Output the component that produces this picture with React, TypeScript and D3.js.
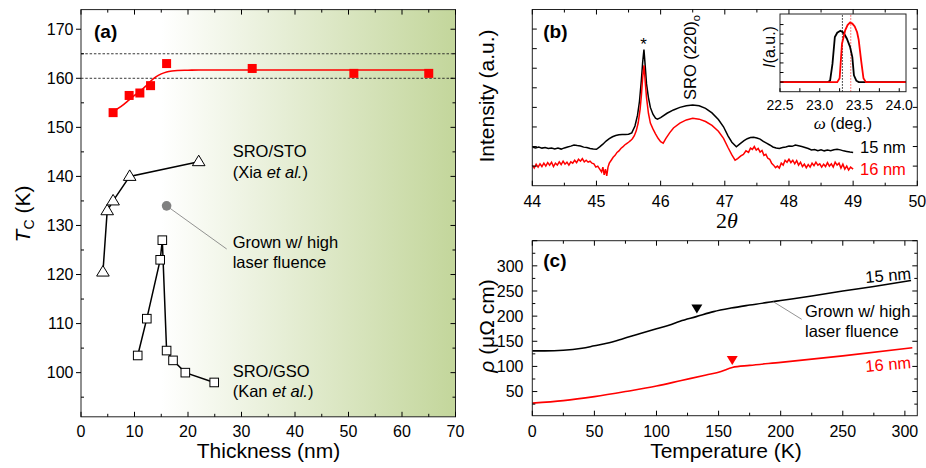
import React from "react";
import * as d3 from "d3";

const SANS = "'Liberation Sans', Arial, Helvetica, sans-serif";
const SERIF = "'Liberation Serif', 'Times New Roman', serif";

// ---------------- Panel (a) data ----------------
const thicknessTicks = [0, 10, 20, 30, 40, 50, 60, 70];
const thicknessMinor = [5, 15, 25, 35, 45, 55, 65];
const tcTicks = [100, 110, 120, 130, 140, 150, 160, 170];
const tcMinor = [95, 105, 115, 125, 135, 145, 155, 165];
const thisWorkThickness = [6, 9, 11, 13, 16, 32, 51, 65];
const thisWorkTc = [153, 156.5, 157, 158.5, 163, 162, 161, 161];
const fitThickness = [6, 7, 8, 9, 10, 11, 12, 13, 14, 15, 16, 17, 18, 20, 22, 25, 30, 40, 50, 65];
const fitTc = [153.2, 153.9, 154.7, 155.6, 156.5, 157.3, 158.3, 159.4, 160.3, 160.9, 161.3, 161.5, 161.6, 161.65, 161.7, 161.7, 161.7, 161.7, 161.7, 161.7];
const xiaThickness = [4.1, 4.9, 6, 9.1, 22];
const xiaTc = [120.5, 133, 135, 140, 143];
const kanThickness = [10.6, 12.3, 14.8, 15.2, 16, 17.2, 19.5, 24.9];
const kanTc = [103.5, 111, 123, 127, 104.5, 102.5, 100, 98];
const highFluenceThickness = [16];
const highFluenceTc = [134];
const refLinesTc = [160, 165];

// ---------------- Panel (b) data ----------------
const twoThetaTicks = [44, 45, 46, 47, 48, 49, 50];
const twoThetaMinor = [44.5, 45.5, 46.5, 47.5, 48.5, 49.5];
const intensityTicks = [1, 2, 3, 4, 5, 6, 7, 8];
const xrd15nm: [number, number][] = [
  [44.0, 1.98], [44.05, 1.93], [44.1, 1.97], [44.15, 1.92], [44.2, 1.95], [44.25, 1.9], [44.3, 1.93], [44.35, 1.88],
  [44.4, 1.92], [44.45, 1.87], [44.5, 1.93], [44.55, 1.98], [44.6, 2.02], [44.65, 2.08], [44.7, 2.05], [44.75, 2.03],
  [44.8, 1.97], [44.85, 1.95], [44.9, 1.9], [44.95, 1.87], [45.0, 1.86], [45.05, 1.98], [45.1, 2.12], [45.15, 2.28],
  [45.2, 2.4], [45.25, 2.5], [45.3, 2.56], [45.35, 2.6], [45.4, 2.62], [45.45, 2.61], [45.5, 2.63], [45.55, 2.7],
  [45.6, 3.05], [45.64, 3.6], [45.67, 4.3], [45.7, 5.4], [45.72, 6.3], [45.74, 6.95], [45.76, 6.1], [45.78, 5.2],
  [45.81, 4.5], [45.84, 4.0], [45.88, 3.65], [45.92, 3.45], [45.95, 3.4], [46.0, 3.48], [46.1, 3.7], [46.2, 3.87],
  [46.3, 4.0], [46.4, 4.08], [46.5, 4.12], [46.6, 4.08], [46.7, 3.95], [46.8, 3.72], [46.9, 3.38], [46.98, 3.01],
  [47.05, 2.55], [47.11, 2.22], [47.18, 1.99], [47.24, 2.15], [47.3, 2.3], [47.35, 2.4], [47.4, 2.46], [47.45, 2.48],
  [47.5, 2.44], [47.55, 2.38], [47.6, 2.26], [47.65, 2.17], [47.7, 2.08], [47.75, 1.98], [47.8, 1.93], [47.85, 1.9],
  [47.9, 1.95], [47.95, 1.98], [48.0, 2.03], [48.05, 2.01], [48.1, 2.08], [48.15, 2.04], [48.2, 2.0], [48.25, 1.95],
  [48.3, 1.9], [48.35, 1.83], [48.4, 1.85], [48.45, 1.79], [48.5, 1.83], [48.55, 1.78], [48.6, 1.82], [48.65, 1.79],
  [48.7, 1.84], [48.75, 1.86], [48.8, 1.83], [48.85, 1.78], [48.9, 1.75], [48.95, 1.72], [49.0, 1.7],
];
const xrd16nm: [number, number][] = [
  [44.0, 1.05], [44.03, 0.9], [44.06, 1.1], [44.09, 0.95], [44.12, 1.12], [44.15, 0.98], [44.18, 1.15], [44.21, 1.0],
  [44.24, 1.18], [44.27, 1.05], [44.3, 1.2], [44.33, 0.98], [44.36, 1.15], [44.39, 1.05], [44.42, 1.22], [44.45, 1.08],
  [44.48, 1.25], [44.51, 1.1], [44.54, 1.2], [44.57, 1.05], [44.6, 1.22], [44.63, 1.15], [44.66, 1.3], [44.69, 1.18],
  [44.72, 1.35], [44.75, 1.25], [44.78, 1.38], [44.81, 1.22], [44.84, 1.3], [44.87, 1.2], [44.9, 1.25], [44.93, 1.15],
  [44.96, 1.12], [44.99, 0.95], [45.02, 1.0], [45.05, 0.85], [45.08, 0.7], [45.1, 0.95], [45.12, 0.55], [45.14, 0.85],
  [45.16, 0.5], [45.18, 0.95], [45.2, 1.15], [45.23, 1.3], [45.26, 1.45], [45.29, 1.55], [45.32, 1.7], [45.35, 1.78],
  [45.38, 1.9], [45.41, 1.98], [45.44, 2.08], [45.47, 2.15], [45.5, 2.22], [45.53, 2.3], [45.56, 2.4], [45.59, 2.55],
  [45.62, 2.8], [45.65, 3.2], [45.68, 3.9], [45.7, 4.6], [45.72, 5.5], [45.74, 6.15], [45.76, 5.3], [45.78, 4.5],
  [45.81, 3.7], [45.84, 3.2], [45.88, 2.9], [45.92, 2.65], [45.96, 2.42], [46.0, 2.25], [46.04, 2.17], [46.08, 2.4],
  [46.14, 2.7], [46.2, 2.95], [46.3, 3.2], [46.4, 3.36], [46.5, 3.44], [46.6, 3.4], [46.7, 3.28], [46.8, 3.08],
  [46.9, 2.78], [46.98, 2.42], [47.05, 1.95], [47.11, 1.57], [47.16, 1.3], [47.2, 1.38], [47.25, 1.52], [47.29, 1.6],
  [47.33, 1.78], [47.37, 1.7], [47.4, 1.92], [47.43, 1.85], [47.46, 2.0], [47.49, 1.82], [47.52, 1.9], [47.55, 1.72],
  [47.58, 1.8], [47.61, 1.55], [47.64, 1.6], [47.67, 1.4], [47.7, 1.35], [47.73, 1.15], [47.76, 1.05], [47.79, 0.92],
  [47.82, 1.0], [47.85, 0.9], [47.88, 1.15], [47.91, 1.05], [47.94, 1.3], [47.97, 1.2], [48.0, 1.35], [48.03, 1.18],
  [48.06, 1.3], [48.09, 1.12], [48.12, 1.28], [48.15, 1.05], [48.18, 1.2], [48.21, 0.98], [48.24, 1.1], [48.27, 0.92],
  [48.3, 1.08], [48.33, 0.95], [48.36, 1.15], [48.39, 1.02], [48.42, 1.2], [48.45, 1.05], [48.48, 1.12], [48.51, 0.95],
  [48.54, 1.1], [48.57, 0.98], [48.6, 1.18], [48.63, 1.0], [48.66, 1.12], [48.69, 0.95], [48.72, 1.2], [48.75, 1.05],
  [48.78, 1.15], [48.81, 0.9], [48.84, 1.1], [48.87, 0.85], [48.9, 1.0], [48.93, 0.8], [48.96, 0.95], [49.0, 0.85],
];

// inset (rocking curves)
const omegaTicks = [22.5, 23.0, 23.5, 24.0];
const omegaMinor = [22.75, 23.25, 23.75];
const insetYTicks = [1, 2, 3, 4, 5, 6, 7];
const rocking15nm: [number, number][] = [
  [22.5, 1.0], [23.1, 1.0], [23.13, 1.15], [23.16, 2.9], [23.19, 5.7], [23.22, 6.15], [23.26, 6.35], [23.3, 6.15],
  [23.34, 5.55], [23.38, 4.7], [23.41, 3.6], [23.43, 1.7], [23.46, 1.15], [23.49, 1.0], [24.085, 1.0],
];
const rocking16nm: [number, number][] = [
  [22.5, 1.0], [23.22, 1.0], [23.25, 1.4], [23.28, 5.0], [23.32, 6.4], [23.35, 6.95], [23.38, 7.2], [23.41, 7.1],
  [23.44, 6.8], [23.47, 6.2], [23.49, 5.4], [23.52, 3.3], [23.55, 1.4], [23.58, 1.0], [24.085, 1.0],
];
const omegaPeak15 = 23.285;
const omegaPeak16 = 23.39;

// ---------------- Panel (c) data ----------------
const tempTicks = [0, 50, 100, 150, 200, 250, 300];
const tempMinor = [25, 75, 125, 175, 225, 275];
const rhoTicks = [50, 100, 150, 200, 250, 300];
const rhoAllTicks = [50, 100, 150, 200, 250, 300, 350];
const rhoMinor = [25, 75, 125, 175, 225, 275, 325];
const rho15nm: [number, number][] = [
  [0, 131], [10, 131], [25, 132], [40, 136], [50, 141], [60, 146], [73, 155], [85, 164], [100, 175], [110, 182],
  [119, 190], [132, 199], [146, 209], [160, 216], [175, 222], [200, 231], [225, 240], [250, 250], [275, 259], [305, 271],
];
const rho16nm: [number, number][] = [
  [0, 27], [25, 32], [50, 40], [75, 50], [100, 61], [120, 72], [140, 83], [152, 90], [161, 98], [175, 102],
  [200, 108], [250, 121], [306, 137],
];
const tcMarker15 = { T: 132.5, rho: 214 };
const tcMarker16 = { T: 161, rho: 112 };

// ---------------- helpers ----------------
type Sc = d3.ScaleLinear<number, number>;
const hTicks = (vals: number[], sc: Sc, y: number, len: number, key: string) =>
  vals.map((v) => <line key={key + v} x1={sc(v)} x2={sc(v)} y1={y} y2={y + len} stroke="#000" strokeWidth={1} />);
const vTicks = (vals: number[], sc: Sc, x: number, len: number, key: string) =>
  vals.map((v) => <line key={key + v} x1={x} x2={x + len} y1={sc(v)} y2={sc(v)} stroke="#000" strokeWidth={1} />);

function PanelA() {
  const x = d3.scaleLinear().domain([0, 70]).range([81, 455.5]);
  const y = d3.scaleLinear().domain([91, 174]).range([416.8, 9.6]);
  const [x0, x1] = x.range();
  const [y0, y1] = y.range();
  const fitPath = d3
    .line<number>()
    .x((_, i) => x(fitThickness[i]))
    .y((d) => y(d))
    .curve(d3.curveMonotoneX)(fitTc);
  const xiaPath = d3.line<number>().x((_, i) => x(xiaThickness[i])).y((d) => y(d))(xiaTc);
  const kanPath = d3.line<number>().x((_, i) => x(kanThickness[i])).y((d) => y(d))(kanTc);
  const labelX = 232.7;
  return (
    <g>
      <defs>
        <linearGradient id="gA" gradientUnits="userSpaceOnUse" x1={x(15)} x2={x(70)} y1={0} y2={0}>
          <stop offset="0" stopColor="#ffffff" />
          <stop offset="1" stopColor="#c3d69b" />
        </linearGradient>
      </defs>
      <rect x={x(15)} y={y1} width={x(70) - x(15)} height={y0 - y1} fill="url(#gA)" />
      {refLinesTc.map((v) => (
        <line key={"ref" + v} x1={x0} x2={x1} y1={y(v)} y2={y(v)} stroke="#222" strokeWidth={0.9} strokeDasharray="2.5,1.8" />
      ))}
      <path d={fitPath || ""} fill="none" stroke="#ff0000" strokeWidth={1.6} />
      <path d={xiaPath || ""} fill="none" stroke="#000" strokeWidth={1.5} />
      <path d={kanPath || ""} fill="none" stroke="#000" strokeWidth={1.5} />
      <line x1={x(highFluenceThickness[0])} y1={y(highFluenceTc[0])} x2={226.7} y2={249} stroke="#777" strokeWidth={0.8} />
      {xiaTc.map((v, i) => (
        <path
          key={"xia" + i}
          transform={`translate(${x(xiaThickness[i])},${y(v)})`}
          d="M0,-6.5 L6.3,4 L-6.3,4 Z"
          fill="#fff"
          stroke="#000"
          strokeWidth={1}
        />
      ))}
      {kanTc.map((v, i) => (
        <rect key={"kan" + i} x={x(kanThickness[i]) - 4.3} y={y(v) - 4.3} width={8.6} height={8.6} fill="#fff" stroke="#000" strokeWidth={1} />
      ))}
      {thisWorkTc.map((v, i) => (
        <rect key={"tw" + i} x={x(thisWorkThickness[i]) - 4.5} y={y(v) - 4.5} width={9} height={9} fill="#ff0000" />
      ))}
      {highFluenceTc.map((v, i) => (
        <circle key={"hf" + i} cx={x(highFluenceThickness[i])} cy={y(v)} r={4.8} fill="#808080" />
      ))}
      <rect x={x0} y={y1} width={x1 - x0} height={y0 - y1} fill="none" stroke="#222" strokeWidth={1} />
      {hTicks(thicknessTicks, x, y0, -5, "xb")}
      {hTicks(thicknessMinor, x, y0, -3, "xbm")}
      {hTicks(thicknessTicks, x, y1, 5, "xt")}
      {hTicks(thicknessMinor, x, y1, 3, "xtm")}
      {vTicks(tcTicks, y, x0, -5, "yl")}
      {vTicks(tcMinor, y, x0, 3, "ylm")}
      {vTicks(tcTicks, y, x1, -5, "yr")}
      {vTicks(tcMinor, y, x1, -3, "yrm")}
      <g fontFamily={SANS} fontSize={16} fill="#000">
        {thicknessTicks.map((v) => (
          <text key={"xl" + v} x={x(v)} y={436.5} textAnchor="middle">
            {v}
          </text>
        ))}
        {tcTicks.map((v) => (
          <text key={"yl" + v} x={73.5} y={y(v) + 5.7} textAnchor="end">
            {v}
          </text>
        ))}
      </g>
      <text x={268.5} y={458} textAnchor="middle" fontFamily={SANS} fontSize={21}>
        Thickness (nm)
      </text>
      <text transform="translate(30,214) rotate(-90)" textAnchor="middle" fontFamily={SANS} fontSize={21}>
        <tspan fontStyle="italic">T</tspan>
        <tspan fontSize={14} dy={4}>C</tspan>
        <tspan dy={-4}> (K)</tspan>
      </text>
      <text x={94} y={37.5} fontFamily={SANS} fontSize={19} fontWeight="bold">
        (a)
      </text>
      <g fontFamily={SANS} fontSize={16.5}>
        <text x={labelX} y={157}>SRO/STO</text>
        <text x={labelX} y={177.5}>
          (Xia <tspan fontStyle="italic">et al.</tspan>)
        </text>
        <text x={labelX} y={247.5}>Grown w/ high</text>
        <text x={labelX} y={268}>laser fluence</text>
        <text x={labelX} y={376.7}>SRO/GSO</text>
        <text x={labelX} y={397}>
          (Kan <tspan fontStyle="italic">et al.</tspan>)
        </text>
      </g>
    </g>
  );
}

function PanelB() {
  const x = d3.scaleLinear().domain([44, 50]).range([532.3, 917.3]);
  const y = d3.scaleLinear().domain([0, 9]).range([185.7, 9.5]);
  const [x0, x1] = x.range();
  const [y0, y1] = y.range();
  const ln = d3.line<[number, number]>().x((d) => x(d[0])).y((d) => y(d[1]));
  const ix = d3.scaleLinear().domain([22.5, 24.085]).range([780, 906]);
  const iy = d3.scaleLinear().domain([0, 8.1]).range([91.7, 14]);
  const iln = d3.line<[number, number]>().x((d) => ix(d[0])).y((d) => iy(d[1]));
  const [ix0, ix1] = ix.range();
  const [iy0, iy1] = iy.range();
  return (
    <g>
      <path d={ln(xrd15nm) || ""} fill="none" stroke="#000" strokeWidth={1.5} />
      <path d={ln(xrd16nm) || ""} fill="none" stroke="#ff0000" strokeWidth={1.5} />
      <rect x={x0} y={y1} width={x1 - x0} height={y0 - y1} fill="none" stroke="#222" strokeWidth={1} />
      {hTicks(twoThetaTicks, x, y0, -5, "bxb")}
      {hTicks(twoThetaMinor, x, y0, -3, "bxbm")}
      {hTicks(twoThetaTicks, x, y1, 5, "bxt")}
      {hTicks(twoThetaMinor, x, y1, 3, "bxtm")}
      {vTicks(intensityTicks, y, x0, 4.5, "byl")}
      {vTicks(intensityTicks, y, x1, -4.5, "byr")}
      <g fontFamily={SANS} fontSize={16}>
        {twoThetaTicks.map((v) => (
          <text key={"bxl" + v} x={x(v)} y={206.5} textAnchor="middle">
            {v}
          </text>
        ))}
      </g>
      <text x={727} y={228} textAnchor="middle" fontFamily={SERIF} fontSize={22}>
        2<tspan fontStyle="italic">θ</tspan>
      </text>
      <text transform="translate(494,96) rotate(-90)" textAnchor="middle" fontFamily={SANS} fontSize={21}>
        Intensity (a.u.)
      </text>
      <text x={543.3} y={37.5} fontFamily={SANS} fontSize={19} fontWeight="bold">
        (b)
      </text>
      <text x={643.5} y={50} textAnchor="middle" fontFamily={SANS} fontSize={17}>
        *
      </text>
      <text transform="translate(696,100) rotate(-90)" fontFamily={SANS} fontSize={16.5}>
        SRO (220)<tspan fontSize={11} dy={4}>o</tspan>
      </text>
      <text x={860} y={153.3} fontFamily={SANS} fontSize={16.5} fill="#000">
        15 nm
      </text>
      <text x={860} y={175} fontFamily={SANS} fontSize={16.5} fill="#ff0000">
        16 nm
      </text>
      {/* inset */}
      <rect x={ix0} y={iy1} width={ix1 - ix0} height={iy0 - iy1} fill="#fff" stroke="none" />
      <line x1={ix(omegaPeak15)} x2={ix(omegaPeak15)} y1={iy0} y2={iy1} stroke="#000" strokeWidth={0.9} strokeDasharray="1.5,1.5" />
      <line x1={ix(omegaPeak16)} x2={ix(omegaPeak16)} y1={iy0} y2={iy1} stroke="#ff4444" strokeWidth={0.9} strokeDasharray="1.5,1.5" />
      <path d={iln(rocking15nm) || ""} fill="none" stroke="#000" strokeWidth={1.8} />
      <path d={iln(rocking16nm) || ""} fill="none" stroke="#ff0000" strokeWidth={1.8} />
      <rect x={ix0} y={iy1} width={ix1 - ix0} height={iy0 - iy1} fill="none" stroke="#222" strokeWidth={1} />
      {hTicks(omegaTicks, ix, iy0, -3.5, "ixb")}
      {hTicks(omegaMinor, ix, iy0, -3.5, "ixbm")}
      {vTicks(insetYTicks, iy, ix0, 3.5, "iyl")}
      <g fontFamily={SANS} fontSize={14}>
        {omegaTicks.map((v) => (
          <text key={"ixl" + v} x={ix(v)} y={109.5} textAnchor="middle">
            {d3.format(".1f")(v)}
          </text>
        ))}
      </g>
      <text x={843} y={129} textAnchor="middle" fontFamily={SANS} fontSize={16}>
        <tspan fontFamily={SERIF} fontStyle="italic" fontSize={17}>ω</tspan> (deg.)
      </text>
      <text transform="translate(775,47) rotate(-90)" textAnchor="middle" fontFamily={SANS} fontSize={16}>
        <tspan fontStyle="italic">I</tspan>(a.u.)
      </text>
    </g>
  );
}

function PanelC() {
  const x = d3.scaleLinear().domain([0, 310]).range([532.3, 917.3]);
  const y = d3.scaleLinear().domain([2, 350]).range([415.7, 240.7]);
  const [x0, x1] = x.range();
  const [y0, y1] = y.range();
  const ln = d3
    .line<[number, number]>()
    .x((d) => x(d[0]))
    .y((d) => y(d[1]))
    .curve(d3.curveMonotoneX);
  const tri = "M-5.5,-4.5 L5.5,-4.5 L0,4.5 Z";
  return (
    <g>
      <path d={ln(rho15nm) || ""} fill="none" stroke="#000" strokeWidth={1.6} />
      <path d={ln(rho16nm) || ""} fill="none" stroke="#ff0000" strokeWidth={1.6} />
      <path d={tri} transform={`translate(${x(tcMarker15.T)},${y(tcMarker15.rho)})`} fill="#000" />
      <path d={tri} transform={`translate(${x(tcMarker16.T)},${y(tcMarker16.rho)})`} fill="#ff0000" />
      <line x1={773.3} y1={301.7} x2={801.7} y2={319.3} stroke="#777" strokeWidth={0.8} />
      <rect x={x0} y={y1} width={x1 - x0} height={y0 - y1} fill="none" stroke="#222" strokeWidth={1} />
      {hTicks(tempTicks, x, y0, -5, "cxb")}
      {hTicks(tempMinor, x, y0, -3, "cxbm")}
      {hTicks(tempTicks, x, y1, 5, "cxt")}
      {hTicks(tempMinor, x, y1, 3, "cxtm")}
      {vTicks(rhoAllTicks, y, x0, 5, "cyl")}
      {vTicks(rhoMinor, y, x0, 3, "cylm")}
      {vTicks(rhoAllTicks, y, x1, -5, "cyr")}
      {vTicks(rhoMinor, y, x1, -3, "cyrm")}
      <g fontFamily={SANS} fontSize={16}>
        {tempTicks.map((v) => (
          <text key={"cxl" + v} x={x(v)} y={436.5} textAnchor="middle">
            {v}
          </text>
        ))}
        {rhoTicks.map((v) => (
          <text key={"cyl" + v} x={523.5} y={y(v) + 5.7} textAnchor="end">
            {v}
          </text>
        ))}
      </g>
      <text x={726} y={458} textAnchor="middle" fontFamily={SANS} fontSize={21}>
        Temperature (K)
      </text>
      <text transform="translate(494,326) rotate(-90)" textAnchor="middle" fontFamily={SANS} fontSize={21}>
        <tspan fontStyle="italic">ρ</tspan> (μΩ cm)
      </text>
      <text x={543.3} y={267} fontFamily={SANS} fontSize={19} fontWeight="bold">
        (c)
      </text>
      <text transform="translate(911.5,279) rotate(-5)" textAnchor="end" fontFamily={SANS} fontSize={16.5}>
        15 nm
      </text>
      <text transform="translate(911.5,368) rotate(-5)" textAnchor="end" fontFamily={SANS} fontSize={16.5} fill="#ff0000">
        16 nm
      </text>
      <g fontFamily={SANS} fontSize={16.5}>
        <text x={805} y={316.5}>Grown w/ high</text>
        <text x={805} y={336.5}>laser fluence</text>
      </g>
    </g>
  );
}

export default function App() {
  return (
    <svg
      width={926}
      height={468}
      viewBox="0 0 926 468"
      style={{ position: "absolute", left: 0, top: 0, background: "#fff" }}
    >
      <rect x={0} y={0} width={926} height={468} fill="#fff" />
      <PanelA />
      <PanelB />
      <PanelC />
    </svg>
  );
}
